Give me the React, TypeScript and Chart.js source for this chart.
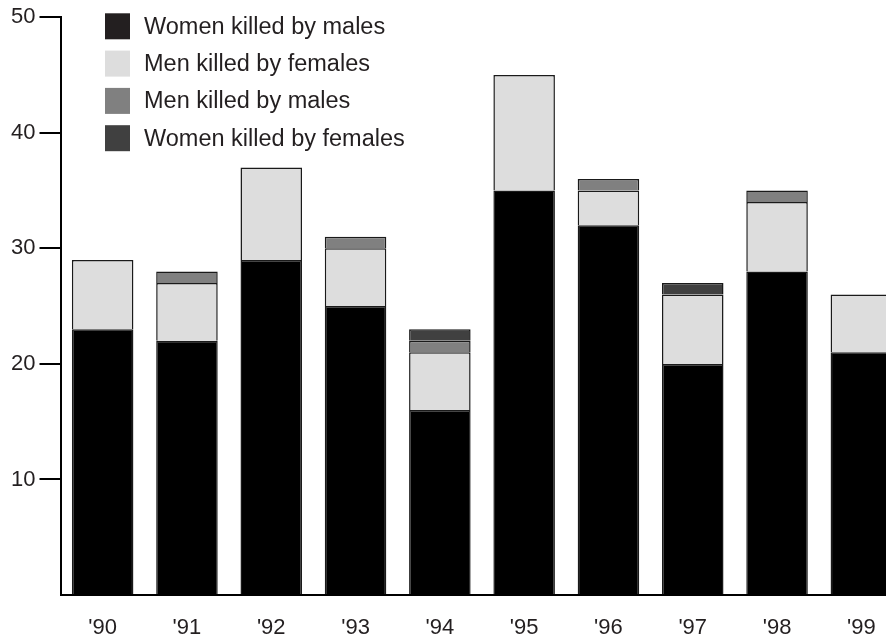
import React, { useEffect, useRef } from "react";
import { Chart, registerables } from "chart.js";

Chart.register(...registerables);

const years = ["'90", "'91", "'92", "'93", "'94", "'95", "'96", "'97", "'98", "'99"];
const womenKilledByMales = [23, 22, 29, 25, 16, 35, 32, 20, 28, 21];
const menKilledByFemales = [6, 5, 8, 5, 5, 10, 3, 6, 6, 5];
const menKilledByMales = [null, 1, null, 1, 1, null, 1, null, 1, null];
const womenKilledByFemales = [null, null, null, null, 1, null, null, 1, null, null];
const yTicks = [10, 20, 30, 40, 50];

const seriesNames = [
  "Women killed by males",
  "Men killed by females",
  "Men killed by males",
  "Women killed by females",
];
const barColors = ["#000000", "#dddddd", "#808080", "#404040"];
const legendColors = ["#231f20", "#dddddd", "#808080", "#404040"];

const FONT = "'Liberation Sans', Arial, Helvetica, sans-serif";
const TEXT = "#231f20";

const legendPlugin = {
  id: "customLegend",
  afterDraw(chart: any) {
    const ctx = chart.ctx;
    ctx.save();
    ctx.font = `23.5px ${FONT}`;
    ctx.textBaseline = "middle";
    ctx.textAlign = "left";
    chart.data.datasets.forEach((ds: any, i: number) => {
      const top = 13.3 + i * 37.3;
      ctx.fillStyle = legendColors[i];
      ctx.fillRect(105, top, 25, 26);
      ctx.fillStyle = TEXT;
      ctx.fillText(ds.label, 144, top + 14);
    });
    ctx.restore();
  },
};

export default function App() {
  const ref = useRef<HTMLCanvasElement>(null);
  useEffect(() => {
    if (!ref.current) return;
    const series = [womenKilledByMales, menKilledByFemales, menKilledByMales, womenKilledByFemales];
    const chart = new Chart(ref.current, {
      type: "bar",
      data: {
        labels: years,
        datasets: series.map((d, i) => ({
          label: seriesNames[i],
          data: d as any,
          backgroundColor: barColors[i],
          borderColor: "#1a1a1a",
          borderWidth: 1.5,
          barPercentage: 0.73,
          categoryPercentage: 1,
        })),
      },
      options: {
        responsive: false,
        animation: false,
        layout: { padding: { top: 16, right: 16.5, left: 0, bottom: 0 } },
        plugins: { legend: { display: false }, tooltip: { enabled: false } },
        scales: {
          x: {
            stacked: true,
            grid: { display: false },
            border: { display: true, color: "#000", width: 2 },
            ticks: { color: TEXT, font: { family: FONT, size: 22 }, padding: 12, maxRotation: 0, autoSkip: false },
            afterFit: (s: any) => { s.height = 44; },
          },
          y: {
            stacked: true,
            min: 0,
            max: 50,
            afterBuildTicks: (s: any) => {
              s.ticks = [0, ...yTicks].map((v) => ({ value: v }));
            },
            grid: {
              display: true,
              drawOnChartArea: false,
              drawTicks: true,
              tickLength: 21,
              lineWidth: 2,
              color: (c: any) => (c.tick && c.tick.value === 0 ? "rgba(0,0,0,0)" : "#000"),
            },
            border: { display: true, color: "#000", width: 2 },
            ticks: {
              color: TEXT,
              font: { family: FONT, size: 22 },
              padding: 4,
              callback: (v: any) => (v === 0 ? "" : String(v)),
            },
            afterFit: (s: any) => { s.width = 60.5; },
          },
        },
      },
      plugins: [legendPlugin],
    });
    return () => chart.destroy();
  }, []);
  return (
    <div style={{ position: "fixed", left: 0, top: 0, width: 886, height: 639, overflow: "hidden", background: "#fff" }}>
      <canvas ref={ref} width={920} height={639} style={{ display: "block", width: 920, height: 639 }} />
    </div>
  );
}
